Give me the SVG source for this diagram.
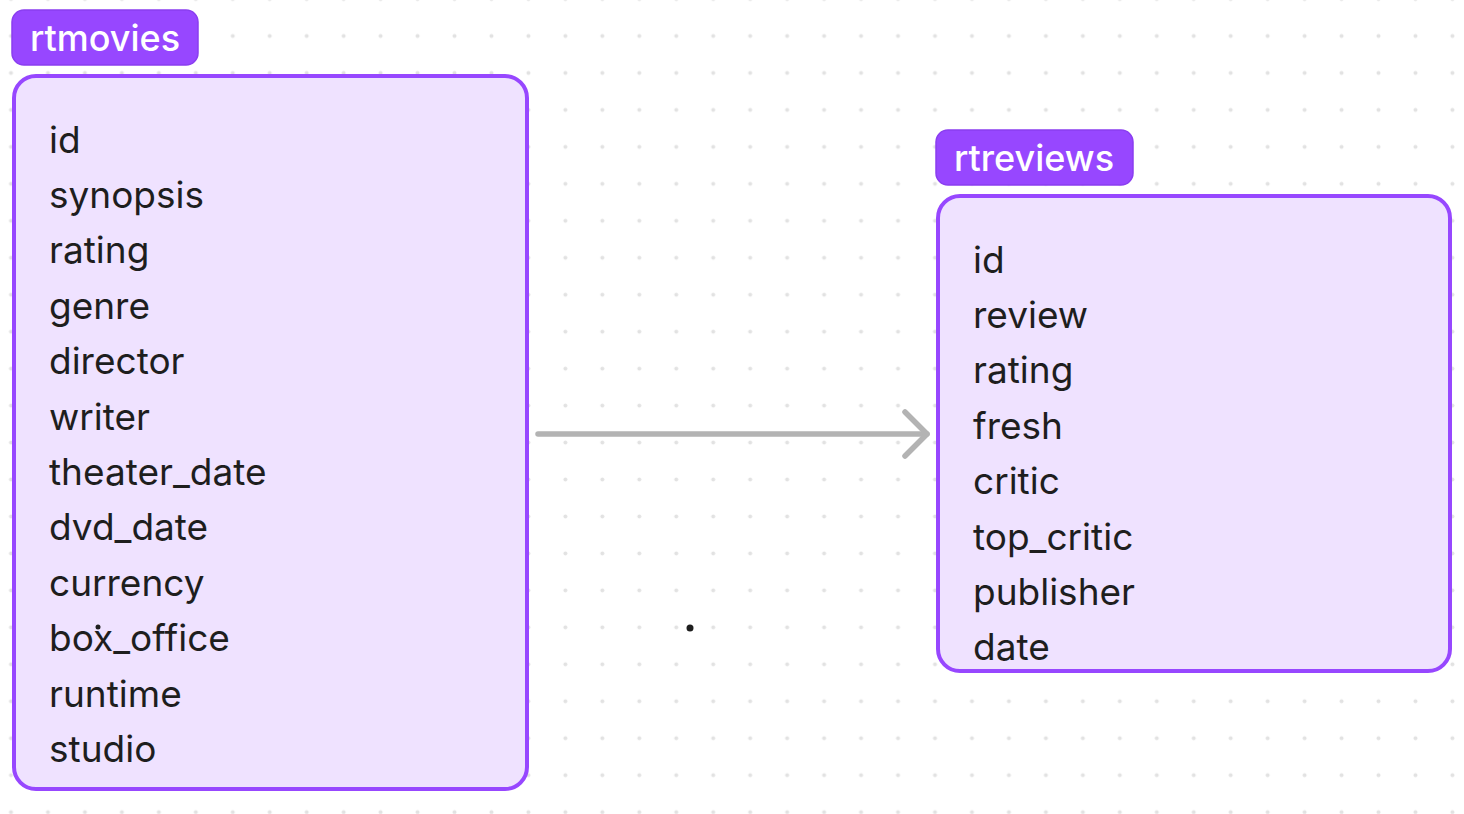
<svg xmlns="http://www.w3.org/2000/svg" width="1464" height="814" viewBox="0 0 1464 814">
<defs>
<pattern id="dots" patternUnits="userSpaceOnUse" x="-7.48" y="17.52" width="36.96" height="36.96">
<circle cx="18.48" cy="18.48" r="2" fill="#e2e2e2"/>
</pattern>
</defs>
<style>
.tab{fill:#9747ff;stroke:#8a3ef0;stroke-width:1.5}
.tabtxt{font-family:Inter,"Liberation Sans",sans-serif;font-size:36px;font-weight:500;fill:#ffffff}
.tbl{fill:#efe2ff;stroke:#9747ff;stroke-width:4}
.fld{font-family:Inter,"Liberation Sans",sans-serif;font-size:37px;fill:#1e1e1e}
.conn{fill:none;stroke:#b3b3b3;stroke-width:5.5;stroke-linecap:round;stroke-linejoin:round}
</style>
<rect width="1464" height="814" fill="#ffffff"/>
<rect width="1464" height="814" fill="url(#dots)"/>
<g id="connectors">
<path class="conn" d="M538 434 H927"/>
<path class="conn" d="M905 412 L927 434 L905 456"/>
</g>
<g id="rtmovies">
<rect class="tab" x="12" y="10" width="186" height="55" rx="12"/>
<text class="tabtxt" x="30" y="51">rtmovies</text>
<rect class="tbl" x="14" y="76" width="513" height="713" rx="22"/>
<text class="fld" x="49" y="152.5">id</text>
<text class="fld" x="49" y="207.9">synopsis</text>
<text class="fld" x="49" y="263.3">rating</text>
<text class="fld" x="49" y="318.7">genre</text>
<text class="fld" x="49" y="374.1">director</text>
<text class="fld" x="49" y="429.5">writer</text>
<text class="fld" x="49" y="484.9">theater_date</text>
<text class="fld" x="49" y="540.3">dvd_date</text>
<text class="fld" x="49" y="595.7">currency</text>
<text class="fld" x="49" y="651.1">box_office</text>
<text class="fld" x="49" y="706.5">runtime</text>
<text class="fld" x="49" y="761.9">studio</text>
</g>
<g id="rtreviews">
<rect class="tab" x="936" y="130" width="197" height="55" rx="12"/>
<text class="tabtxt" x="954" y="171">rtreviews</text>
<rect class="tbl" x="938" y="196" width="512" height="475" rx="22"/>
<text class="fld" x="973" y="272.5">id</text>
<text class="fld" x="973" y="327.9">review</text>
<text class="fld" x="973" y="383.3">rating</text>
<text class="fld" x="973" y="438.7">fresh</text>
<text class="fld" x="973" y="494.1">critic</text>
<text class="fld" x="973" y="549.5">top_critic</text>
<text class="fld" x="973" y="604.9">publisher</text>
<text class="fld" x="973" y="660.3">date</text>
</g>
<circle cx="98" cy="627" r="2.5" fill="#1e1e1e"/>
<circle cx="690" cy="628" r="3.5" fill="#1e1e1e"/>
</svg>
